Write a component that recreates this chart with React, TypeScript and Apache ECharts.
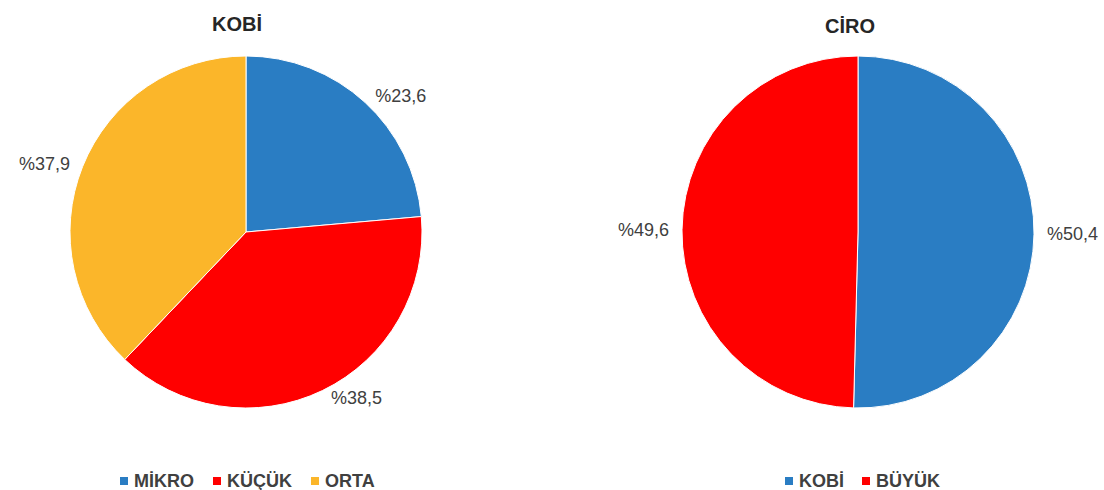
import React, { useEffect, useRef } from "react";
import * as echarts from "echarts";

const kobiNames = ["MİKRO", "KÜÇÜK", "ORTA"];
const kobiValues = [23.6, 38.5, 37.9];
const ciroNames = ["KOBİ", "BÜYÜK"];
const ciroValues = [50.4, 49.6];
const titles = ["KOBİ", "CİRO"];

const BLUE = "#2A7DC3";
const RED = "#FF0000";
const ORANGE = "#FBB62A";

const fmt = (v: number) => "%" + v.toFixed(1).replace(".", ",");

export default function App() {
  const ref = useRef<HTMLDivElement>(null);
  useEffect(() => {
    document.body.style.margin = "0";
    const chart = echarts.init(ref.current!, null, { renderer: "svg" });
    const font = "'Liberation Sans', Arial, sans-serif";
    const labelCfg = {
      show: true,
      position: "outside",
      overflow: "none",
      edgeDistance: 2,
      formatter: (p: any) => fmt(p.value),
      color: "#404040",
      fontSize: 18,
      fontFamily: font,
    };
    const titleStyle = { fontSize: 20, fontWeight: "bold", color: "#262626", fontFamily: font };
    const legendText = { fontSize: 18, fontWeight: "bold", color: "#404040", fontFamily: font };
    chart.setOption({
      animation: false,
      backgroundColor: "#ffffff",
      title: [
        { text: titles[0], left: 232, top: 9, textAlign: "center", textStyle: titleStyle },
        { text: titles[1], left: 845, top: 11, textAlign: "center", textStyle: titleStyle },
      ],
      legend: [
        {
          data: kobiNames,
          left: 113,
          top: 467,
          icon: "rect",
          itemWidth: 10,
          itemHeight: 10,
          itemGap: 17,
          textStyle: legendText,
          selectedMode: false,
        },
        {
          data: ciroNames,
          left: 778,
          top: 467,
          icon: "rect",
          itemWidth: 10,
          itemHeight: 10,
          itemGap: 16,
          textStyle: legendText,
          selectedMode: false,
        },
      ],
      series: [
        {
          type: "pie",
          center: [246, 232],
          radius: [0, 176],
          startAngle: 90,
          clockwise: true,
          label: labelCfg,
          labelLine: { show: false, length: 8, length2: 0 },
          itemStyle: { borderColor: "#ffffff", borderWidth: 1 },
          data: kobiNames.map((n, i) => ({
            name: n,
            value: kobiValues[i],
            itemStyle: { color: [BLUE, RED, ORANGE][i] },
          })),
        },
        {
          type: "pie",
          center: [858, 232],
          radius: [0, 176],
          startAngle: 90,
          clockwise: true,
          label: labelCfg,
          labelLine: { show: false, length: 8, length2: 0 },
          itemStyle: { borderColor: "#ffffff", borderWidth: 1 },
          data: ciroNames.map((n, i) => ({
            name: n,
            value: ciroValues[i],
            itemStyle: { color: [BLUE, RED][i] },
          })),
        },
      ],
    });
    return () => chart.dispose();
  }, []);
  return <div ref={ref} style={{ width: 1104, height: 490 }} />;
}
